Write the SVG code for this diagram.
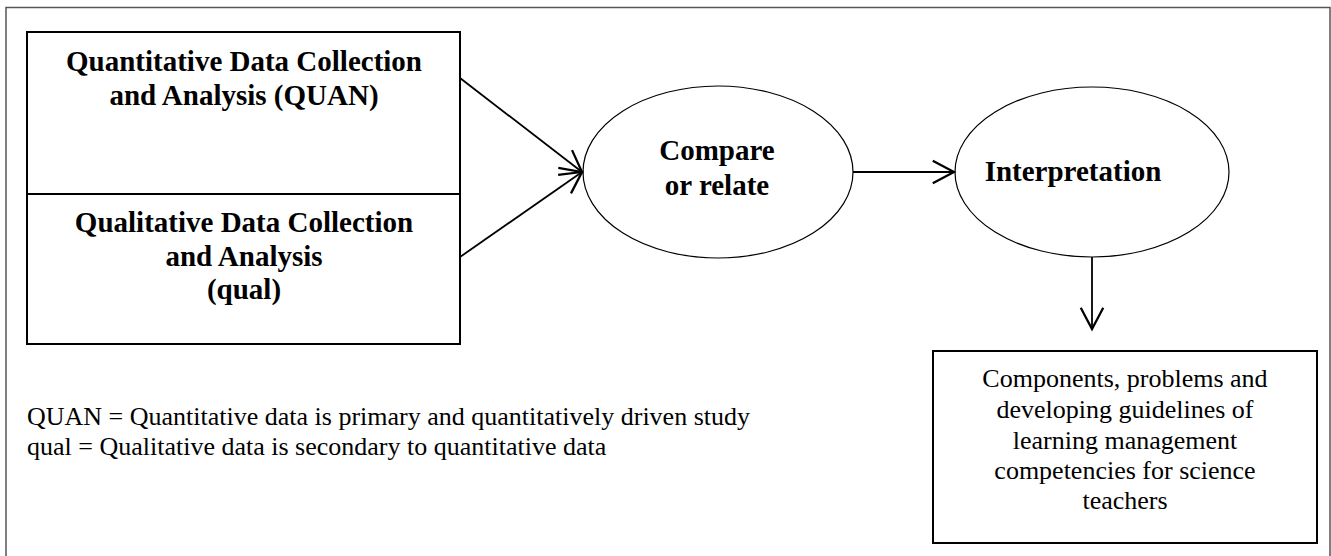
<svg xmlns="http://www.w3.org/2000/svg" width="1331" height="556" viewBox="0 0 1331 556">
<style>
.b{font-family:"Liberation Serif","Times New Roman",serif;font-weight:bold;font-size:29px;fill:#000;text-anchor:middle}
.r{font-family:"Liberation Serif","Times New Roman",serif;font-size:26px;fill:#000}
.c{text-anchor:middle}
.box{fill:#fff;stroke:#000;stroke-width:2}
.ell{fill:#fff;stroke:#000;stroke-width:1.2}
.con{stroke:#000;stroke-width:1.8;fill:none}
</style>
<defs>
<marker id="ah" markerUnits="userSpaceOnUse" markerWidth="30" markerHeight="30" viewBox="-20 -12 22 24" refX="0" refY="0" orient="auto">
<path d="M-17,-9 L0,0 L-17,9" fill="none" stroke="#000" stroke-width="1.8"/>
</marker>
</defs>
<rect width="1331" height="556" fill="#fff"/>
<rect x="6" y="7.5" width="1324" height="560" fill="none" stroke="#555" stroke-width="1.5"/>
<g id="quan">
<rect class="box" x="27" y="32" width="433" height="162"/>
<text class="b" x="244" y="71">Quantitative Data Collection</text>
<text class="b" x="244" y="105">and Analysis (QUAN)</text>
</g>
<g id="qual">
<rect class="box" x="27" y="194" width="433" height="150"/>
<text class="b" x="244" y="232">Qualitative Data Collection</text>
<text class="b" x="244" y="266">and Analysis</text>
<text class="b" x="244" y="299">(qual)</text>
</g>
<g id="compare">
<ellipse class="ell" cx="718" cy="172" rx="135" ry="86"/>
<text class="b" x="717" y="160">Compare</text>
<text class="b" x="717" y="195">or relate</text>
</g>
<g id="interpretation">
<ellipse class="ell" cx="1092" cy="172" rx="137" ry="85"/>
<text class="b" x="1073" y="181">Interpretation</text>
</g>
<g id="result">
<rect class="box" x="933" y="351" width="384" height="192"/>
<text class="r c" x="1125" y="387">Components, problems and</text>
<text class="r c" x="1125" y="418">developing guidelines of</text>
<text class="r c" x="1125" y="449">learning management</text>
<text class="r c" x="1125" y="479">competencies for science</text>
<text class="r c" x="1125" y="509">teachers</text>
</g>
<g id="legend">
<text class="r" x="27" y="425">QUAN = Quantitative data is primary and quantitatively driven study</text>
<text class="r" x="27" y="455">qual = Qualitative data is secondary to quantitative data</text>
</g>
<g id="connectors">
<line class="con" x1="460" y1="78" x2="582" y2="172" marker-end="url(#ah)"/>
<line class="con" x1="460" y1="257" x2="582" y2="172" marker-end="url(#ah)"/>
<line class="con" x1="853" y1="172" x2="954" y2="172" marker-end="url(#ah)"/>
<line class="con" x1="1092" y1="257" x2="1092" y2="329" marker-end="url(#ah)"/>
</g>
</svg>
